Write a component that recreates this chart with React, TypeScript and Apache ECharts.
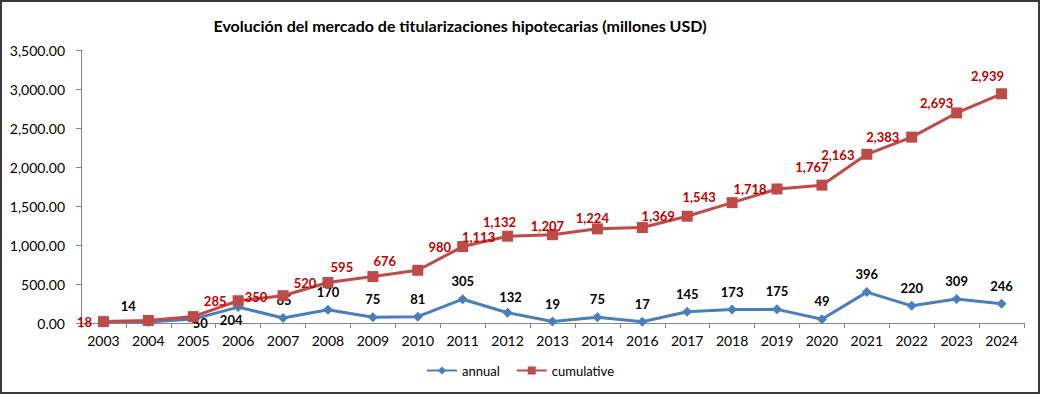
import React, { useEffect, useRef } from "react";
import * as echarts from "echarts";

const years = ["2003","2004","2005","2006","2007","2008","2009","2010","2011","2012","2013","2014","2016","2017","2018","2019","2020","2021","2022","2023","2024"];
const annual = [18,14,50,204,65,170,75,81,305,132,19,75,17,145,173,175,49,396,220,309,246];
const cumulative = [18,32,82,285,350,520,595,676,980,1113,1132,1207,1224,1369,1543,1718,1767,2163,2383,2693,2939];
const annualLabelShown = [false,true,true,true,true,true,true,true,true,true,true,true,true,true,true,true,true,true,true,true,true];
const cumulativeLabelShown = [true,false,false,true,true,true,true,true,true,true,true,true,true,true,true,true,true,true,true,true,true];
const annualLabelOffsets: [number, number][] = [[0,-18],[-20,-16],[7,4],[-7,13],[1,-18],[0,-18],[0,-18],[0,-18],[0,-18],[3,-16],[0,-18],[0,-18],[0,-18],[0,-18],[0,-18],[0,-18],[0,-18],[0,-18],[0,-18],[0,-18],[0,-18]];
const cumulativeLabelOffsets: [number, number][] = [[-19,0],[0,0],[0,0],[-23,0],[-27,1],[-23,1],[-31,-10],[-33,-9],[-23,0],[-29,1],[-53,-13],[-50,-3],[-50,-10],[-29,0],[-33,-6],[-27,0],[-10,-18],[-29,1],[-29,0],[-20,-10],[-14,-18]];

const FONT = "Lato, 'Open Sans', sans-serif";
const fmt = (v: number) => v.toLocaleString("en-US");

export default function App() {
  const ref = useRef<HTMLDivElement>(null);
  useEffect(() => {
    document.body.style.margin = "0";
    const chart = echarts.init(ref.current!, undefined, { renderer: "svg" });
    const labelBase = { show: true, position: "inside", fontFamily: FONT, fontSize: 13, fontWeight: "bold" } as any;
    chart.setOption({
      animation: false,
      title: {
        text: "Evolución del mercado de titularizaciones hipotecarias (millones USD)",
        left: 455,
        textAlign: "center",
        top: 12,
        textStyle: { fontFamily: FONT, fontSize: 16, fontWeight: "bold", color: "#000" },
      },
      grid: { left: 81, right: 16, top: 50, bottom: 71 },
      legend: {
        bottom: 12,
        left: "center",
        itemWidth: 30,
        itemHeight: 10,
        itemGap: 16,
        textStyle: { fontFamily: FONT, fontSize: 13, color: "#000" },
        data: ["annual", "cumulative"],
      },
      xAxis: {
        type: "category",
        data: years,
        axisLine: { lineStyle: { color: "#868686", width: 1 } },
        axisTick: { show: true, length: 5, lineStyle: { color: "#868686" } },
        axisLabel: { fontFamily: FONT, fontSize: 14, color: "#000", margin: 10 },
      },
      yAxis: {
        type: "value",
        min: 0,
        max: 3500,
        interval: 500,
        splitLine: { show: false },
        axisLine: { show: true, lineStyle: { color: "#868686", width: 1 } },
        axisTick: { show: true, length: 5, lineStyle: { color: "#868686" } },
        axisLabel: {
          fontFamily: FONT,
          fontSize: 14,
          color: "#000",
          margin: 16,
          formatter: (v: number) => v.toLocaleString("en-US", { minimumFractionDigits: 2, maximumFractionDigits: 2 }),
        },
      },
      series: [
        {
          name: "annual",
          type: "line",
          symbol: "diamond",
          symbolSize: 10,
          lineStyle: { color: "#4A7EBB", width: 3 },
          itemStyle: { color: "#4A7EBB" },
          z: 2,
          data: annual.map((v, i) => ({
            value: v,
            label: { ...labelBase, show: annualLabelShown[i], color: "#000", offset: annualLabelOffsets[i], formatter: () => fmt(v) },
          })),
        },
        {
          name: "cumulative",
          type: "line",
          symbol: "rect",
          symbolSize: 11,
          lineStyle: { color: "#BE4B48", width: 3 },
          itemStyle: { color: "#BE4B48" },
          z: 3,
          data: cumulative.map((v, i) => ({
            value: v,
            label: { ...labelBase, show: cumulativeLabelShown[i], color: "#C00000", offset: cumulativeLabelOffsets[i], formatter: () => fmt(v) },
          })),
        },
      ],
    });
    return () => chart.dispose();
  }, []);
  return (
    <div style={{ position: "absolute", left: 0, top: 0, width: 1040, height: 394, boxSizing: "border-box", border: "2px solid #3a3a3a", background: "#fff" }}>
      <div ref={ref} style={{ position: "absolute", left: -2, top: -2, width: 1040, height: 394 }} />
    </div>
  );
}
